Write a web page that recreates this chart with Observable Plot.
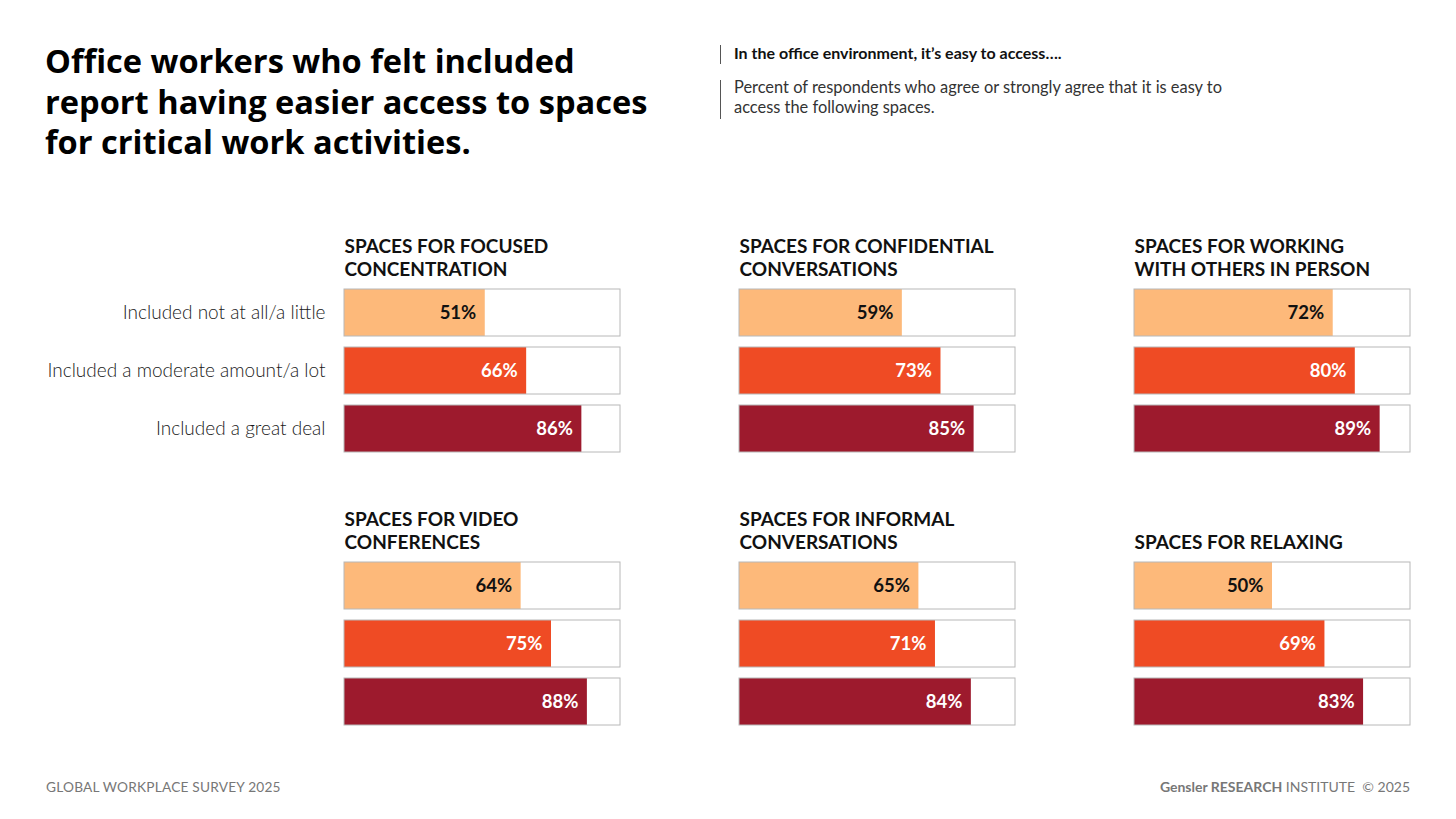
<!DOCTYPE html>
<html><head><meta charset="utf-8">
<script src="https://cdn.jsdelivr.net/npm/d3@7"></script>
<script src="https://cdn.jsdelivr.net/npm/@observablehq/plot@0.6"></script>
<style>
body{margin:0;background:#fff;font-family:Lato,"Noto Sans",sans-serif;}
#wrap{position:relative;width:1456px;height:819px;overflow:hidden;background:#fff;}
#title{position:absolute;left:45px;top:41px;font-family:"Open Sans",Lato,sans-serif;font-size:32.6px;font-weight:700;line-height:40.5px;color:#000;letter-spacing:0;margin:0;}
.rule{position:absolute;left:720px;width:0;border-left:1px solid #555;}
#sub1{position:absolute;left:734px;top:43px;font-size:16px;font-weight:700;color:#111;line-height:20px;}
#sub2{position:absolute;left:734px;top:77px;font-size:16.4px;font-weight:400;color:#333;line-height:20px;}
#chart{position:absolute;left:0;top:200px;}
#footL{position:absolute;left:46px;top:778px;font-size:13.7px;color:#777;letter-spacing:0.2px;}
#footR{position:absolute;right:46px;top:778px;font-size:14px;color:#777;}
#footR b{font-weight:700;}
</style>
</head><body>
<div id="wrap">
  <h1 id="title">Office workers who felt included<br>report having easier access to spaces<br>for critical work activities.</h1>
  <div class="rule" style="top:45px;height:19px;"></div>
  <div id="sub1">In the office environment, it’s easy to access….</div>
  <div class="rule" style="top:80px;height:39px;"></div>
  <div id="sub2">Percent of respondents who agree or strongly agree that it is easy to<br>access the following spaces.</div>
  <div id="chart"></div>
  <div id="footL">GLOBAL WORKPLACE SURVEY 2025</div>
  <div id="footR"><b>Gensler RESEARCH</b> INSTITUTE &nbsp;© 2025</div>
</div>
<script>
const panelTitles = [
  "SPACES FOR FOCUSED\nCONCENTRATION",
  "SPACES FOR CONFIDENTIAL\nCONVERSATIONS",
  "SPACES FOR WORKING\nWITH OTHERS IN PERSON",
  "SPACES FOR VIDEO\nCONFERENCES",
  "SPACES FOR INFORMAL\nCONVERSATIONS",
  "SPACES FOR RELAXING"
];
const panelCol = [0, 1, 2, 0, 1, 2];
const panelRow = [0, 0, 0, 1, 1, 1];
const groups = ["Included not at all/a little", "Included a moderate amount/a lot", "Included a great deal"];
const valuesLittle   = [51, 59, 72, 64, 65, 50];
const valuesModerate = [66, 73, 80, 75, 71, 69];
const valuesGreat    = [86, 85, 89, 88, 84, 83];
const groupColors = ["#FDB97A", "#EF4B24", "#9D1A2D"];

const series = [valuesLittle, valuesModerate, valuesGreat];
const rows = [];
panelTitles.forEach((t, i) => {
  series.forEach((arr, g) => rows.push({title: t, col: panelCol[i], row: panelRow[i], group: groups[g], value: arr[i]}));
});
const panels = panelTitles.map((t, i) => ({title: t, col: panelCol[i], row: panelRow[i]}));
const groupLabels = groups.map(g => ({group: g, col: 0, row: 0}));

const chart = Plot.plot({
  width: 1456, height: 545,
  marginTop: 88, marginBottom: 18, marginLeft: 344, marginRight: 46,
  style: {fontFamily: "Lato, 'Noto Sans', sans-serif", background: "transparent", overflow: "visible"},
  fx: {domain: [0, 1, 2], axis: null, paddingInner: 0.3013, paddingOuter: 0},
  fy: {domain: [0, 1], axis: null, paddingInner: 0.392, paddingOuter: 0},
  x: {domain: [0, 100], axis: null},
  y: {domain: groups, axis: null, paddingInner: 0.186, paddingOuter: 0},
  color: {domain: groups, range: groupColors},
  marks: [
    Plot.barX(rows, {fx: "col", fy: "row", y: "group", x1: 0, x2: 100, fill: "white"}),
    Plot.barX(rows, {fx: "col", fy: "row", y: "group", x: "value", fill: "group"}),
    Plot.barX(rows, {fx: "col", fy: "row", y: "group", x1: 0, x2: 100, fill: "none", stroke: "#b8b8b8", strokeWidth: 1}),
    Plot.text(rows.filter(d => d.group === groups[0]), {fx: "col", fy: "row", y: "group", x: "value", text: d => d.value + "%", textAnchor: "end", dx: -9, fill: "#111", fontWeight: 700, fontSize: 18.5, ariaLabel: "pct"}),
    Plot.text(rows.filter(d => d.group !== groups[0]), {fx: "col", fy: "row", y: "group", x: "value", text: d => d.value + "%", textAnchor: "end", dx: -9, fill: "#fff", fontWeight: 700, fontSize: 18.5, ariaLabel: "pct"}),
    Plot.text(panels, {fx: "col", fy: "row", text: "title", frameAnchor: "top-left", lineAnchor: "bottom", dy: -13, fontWeight: 700, fontSize: 19, lineHeight: 1.21, fill: "#111", letterSpacing: 0.4}),
    Plot.text(groupLabels, {fx: "col", fy: "row", y: "group", x: 0, text: "group", textAnchor: "end", dx: -19, fontSize: 19, fontWeight: 300, fill: "#1a1a1a"})
  ]
});
document.getElementById("chart").appendChild(chart);
chart.querySelectorAll('g[aria-label="pct"] text').forEach(el => {
  const s = el.textContent;
  el.textContent = s.replace("%", "");
  const ts = document.createElementNS("http://www.w3.org/2000/svg", "tspan");
  ts.setAttribute("font-size", "0.78em");
  ts.textContent = "%";
  el.appendChild(ts);
});
</script>
</body></html>
